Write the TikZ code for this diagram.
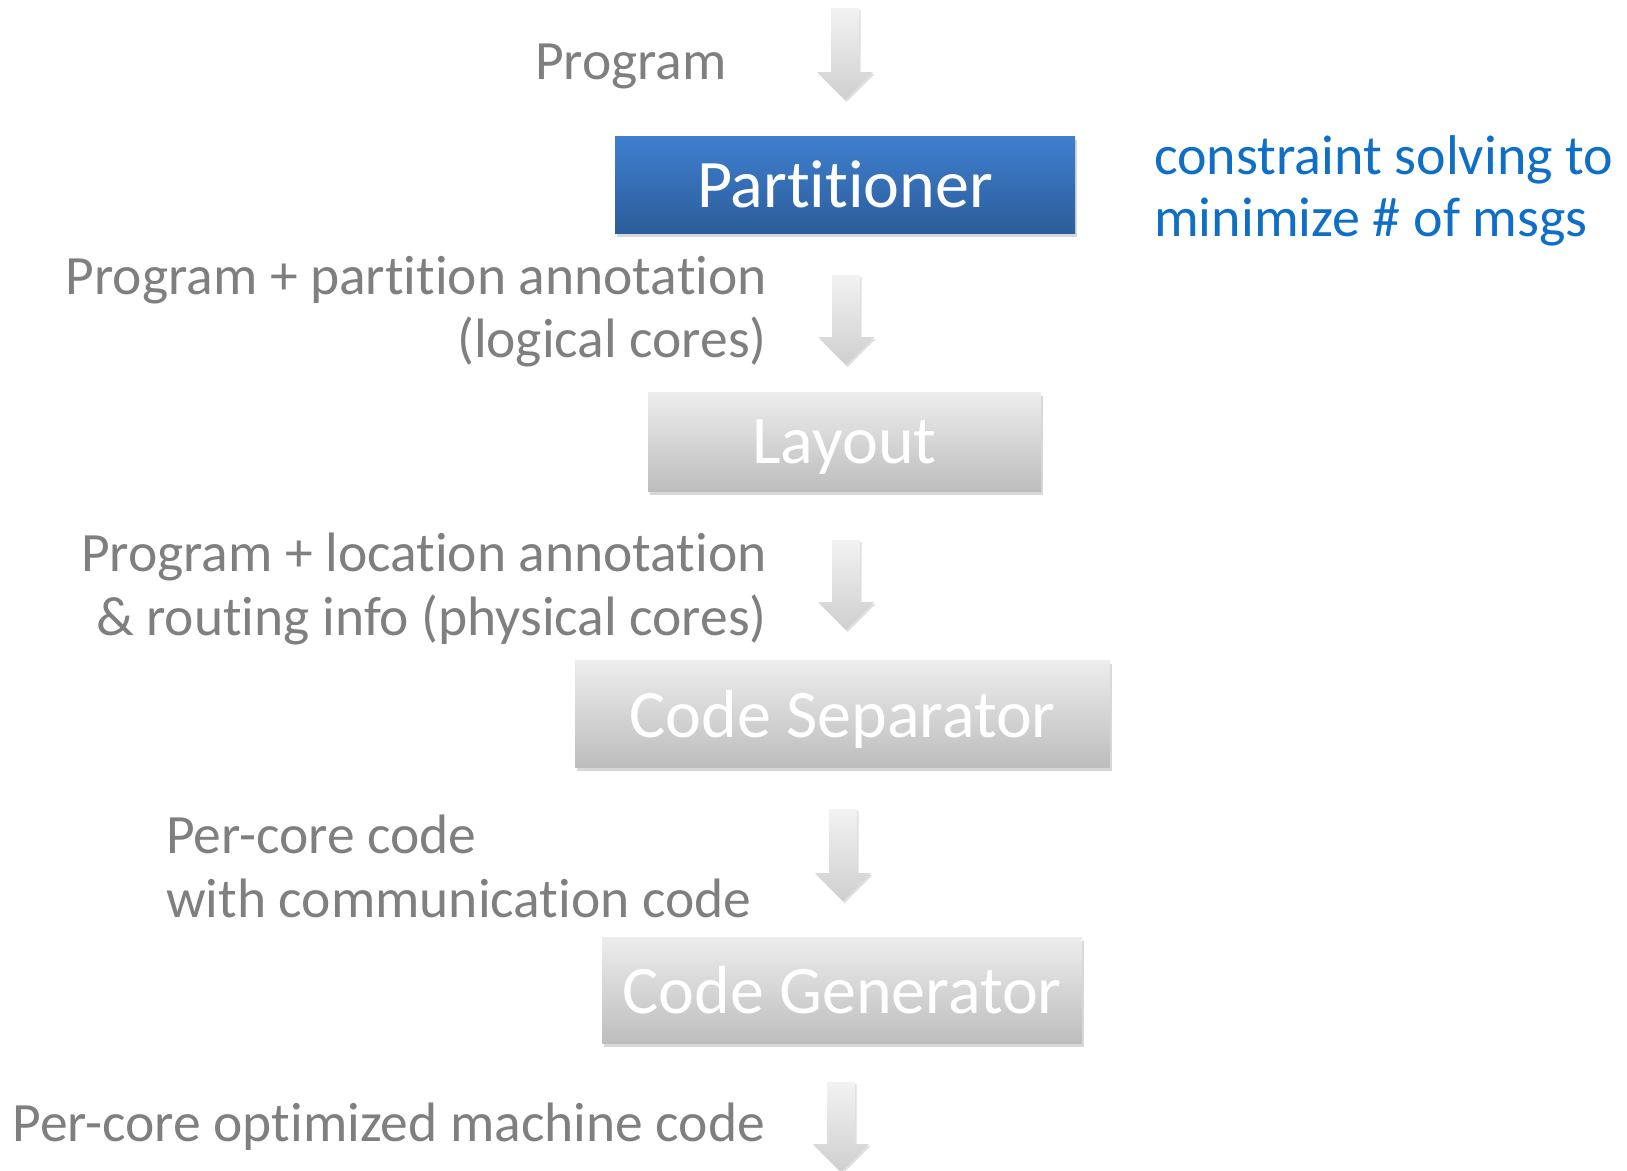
\documentclass[tikz,border=0pt]{standalone}
\usepackage{fontspec}
\setmainfont{Carlito}[Ligatures=NoCommon]
\usetikzlibrary{shadows}
\definecolor{txtgray}{HTML}{7F7F7F}
\definecolor{txtblue}{HTML}{0F6FC6}
\definecolor{bluetop}{HTML}{3F7FCF}
\definecolor{bluebot}{HTML}{2C5D9B}
\definecolor{graytop}{HTML}{EDEDED}
\definecolor{graybot}{HTML}{BDBDBD}
\newcommand\blkarrow[3]{%
  \path[blockarrow] (#1-14,#2) -- (#1+14,#2) -- (#1+14,#3-28) -- (#1+28,#3-28)
    -- (#1,#3) -- (#1-28,#3-28) -- (#1-14,#3-28) -- cycle;}
\begin{document}
\begin{tikzpicture}[x=1pt,y=-1pt,
  stagebox/.style={rectangle, inner sep=0pt, text=white, text depth=0pt,
    font=\fontsize{68}{72}\selectfont,
    drop shadow={shadow xshift=2pt, shadow yshift=-4pt, opacity=0.3},
    top color=graytop, bottom color=graybot},
  bluebox/.style={stagebox, top color=bluetop, bottom color=bluebot},
  lbl/.style={inner sep=0pt, text=txtgray, font=\fontsize{55.5}{63}\selectfont},
  note/.style={inner sep=0pt, text=txtblue, font=\fontsize{56}{62}\selectfont},
  blockarrow/.style={top color=gray!10, bottom color=gray!38,
    drop shadow={shadow xshift=1.5pt, shadow yshift=-2pt, opacity=0.25}}
]
\useasboundingbox[fill=white] (0,0) rectangle (1627,1170);

% block arrows
\blkarrow{845}{8}{100}
\blkarrow{846}{275}{365}
\blkarrow{846}{540}{630}
\blkarrow{843}{809}{901}
\blkarrow{841}{1082}{1172}

% stages
\node[bluebox, minimum width=460, minimum height=97] (part) at (845,184.5) {Partitioner};
\node[stagebox, minimum width=393, minimum height=99] (layout) at (844.5,441.5) {Layout};
\node[stagebox, minimum width=535, minimum height=107] (sep) at (842.5,713.5) {Code Separator};
\node[stagebox, minimum width=480, minimum height=106] (gen) at (842,990) {Code Generator};

% labels
\node[lbl, anchor=base east] (t0) at (727,79) {Program};
\node[lbl, anchor=base east] (t1a) at (767,294) {Program + partition annotation};
\node[lbl, anchor=base east] (t1b) at (767,357) {(logical cores)};
\node[lbl, anchor=base east] (t2a) at (767,571) {Program + location annotation};
\node[lbl, anchor=base east] (t2b) at (767,635) {\& routing info (physical cores)};
\node[lbl, anchor=base west] (t3a) at (166,853) {Per-core code};
\node[lbl, anchor=base west] (t3b) at (166,917) {with communication code};
\node[lbl, anchor=base west] (t4) at (12.5,1141) {Per-core optimized machine code};

\node[note, anchor=base west] (n1) at (1154,174) {constraint solving to};
\node[note, anchor=base west] (n2) at (1154,236) {minimize \# of msgs};
\end{tikzpicture}
\end{document}
